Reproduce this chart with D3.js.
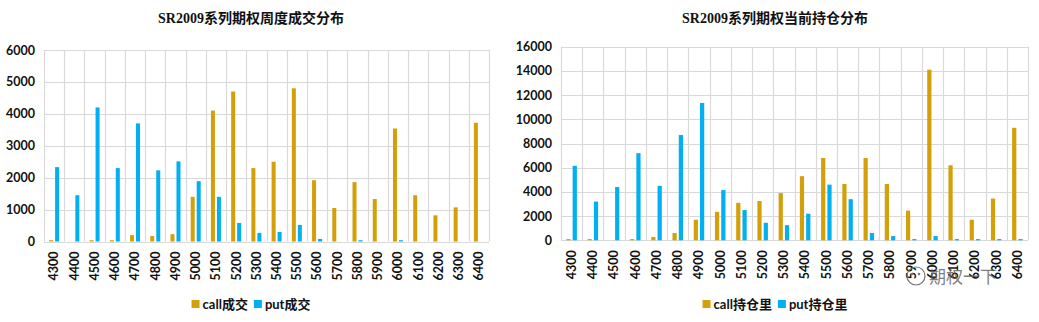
<!DOCTYPE html>
<html><head><meta charset="utf-8">
<script src="https://cdn.jsdelivr.net/npm/d3@7"></script>
<style>
body{margin:0;background:#fff;}
svg{display:block;}
</style></head>
<body>
<svg id="c" width="1039" height="322"></svg>
<script>
const strikes = ["4300","4400","4500","4600","4700","4800","4900","5000","5100","5200","5300","5400","5500","5600","5700","5800","5900","6000","6100","6200","6300","6400"];
const volCall = [40,0,40,40,200,170,230,1400,4100,4700,2300,2500,4800,1920,1050,1860,1330,3540,1450,820,1070,3720];
const volPut  = [2330,1450,4200,2300,3700,2230,2510,1890,1400,580,270,300,520,80,0,40,0,40,0,0,0,0];
const oiCall  = [100,100,0,100,270,600,1700,2350,3100,3250,3900,5300,6800,4650,6800,4650,2450,14100,6200,1700,3450,9300];
const oiPut   = [6150,3200,4400,7200,4500,8700,11350,4150,2500,1450,1250,2200,4600,3400,600,350,100,350,100,100,100,100];
const volTicks = [0,1000,2000,3000,4000,5000,6000];
const oiTicks = [0,2000,4000,6000,8000,10000,12000,14000,16000];
const titles = ["SR2009系列期权周度成交分布","SR2009系列期权当前持仓分布"];
const legendVol = ["call成交","put成交"];
const legendOi = ["call持仓里","put持仓里"];
const colors = ["#D4A00A","#00B0F0"];

const svg = d3.select("#c");
const numFont = "Lato, 'Open Sans', sans-serif";
const cjkFont = "Lato, 'Noto Sans CJK SC', sans-serif";

function chart(cfg){
  const g = svg.append("g");
  const x0 = d3.scaleBand().domain(strikes).range([cfg.x0, cfg.x1]).paddingInner(0).paddingOuter(0);
  const x1 = d3.scaleBand().domain(["call","put"]).range([0, x0.bandwidth()]).paddingInner(0.33).paddingOuter(0.85);
  const y = d3.scaleLinear().domain([0, cfg.max]).range([cfg.yb, cfg.yt]);
  g.append("g").selectAll("line").data(cfg.ticks).join("line")
    .attr("x1", cfg.x0).attr("x2", cfg.x1)
    .attr("y1", d=>Math.round(y(d))+0.5).attr("y2", d=>Math.round(y(d))+0.5)
    .attr("stroke","#d9d9d9").attr("stroke-width",1.2);
  const bounds = strikes.map(s=>x0(s)).concat([cfg.x1]);
  g.append("g").selectAll("line").data(bounds).join("line")
    .attr("x1", d=>Math.round(d)+0.5).attr("x2", d=>Math.round(d)+0.5)
    .attr("y1", cfg.yt).attr("y2", cfg.yb)
    .attr("stroke","#d9d9d9").attr("stroke-width",1.2);
  const ya = d3.axisLeft(y).tickValues(cfg.ticks).tickFormat(d3.format("d")).tickSize(0).tickPadding(0);
  const yg = g.append("g").attr("transform",`translate(${cfg.labelX},0)`).call(ya);
  yg.select(".domain").remove();
  yg.selectAll("text").attr("font-family",numFont).attr("font-weight","bold").attr("font-size",12.5).attr("fill","#111");
  const xa = d3.axisBottom(x0).tickSize(0).tickPadding(0);
  const xg = g.append("g").attr("transform",`translate(0,${cfg.yb+10})`).call(xa);
  xg.select(".domain").remove();
  xg.selectAll("text").attr("font-family",numFont).attr("font-weight","bold").attr("font-size",12.5).attr("fill","#111")
    .attr("text-anchor","end").attr("transform","rotate(-90)").attr("dy","0.35em").attr("x",0).attr("y",0);
  const rows = strikes.map((s,i)=>({s, call:cfg.call[i], put:cfg.put[i]}));
  g.append("g").selectAll("g").data(rows).join("g")
    .attr("transform", d=>`translate(${x0(d.s)},0)`)
    .selectAll("rect").data(d=>[{k:"call",v:d.call},{k:"put",v:d.put}]).join("rect")
    .attr("x", d=>x1(d.k)).attr("width", x1.bandwidth())
    .attr("y", d=>y(d.v)).attr("height", d=>y(0)-y(d.v))
    .attr("fill", (d,i)=>colors[i]);
  g.append("text").attr("x",cfg.cx).attr("y",23).attr("text-anchor","middle")
    .attr("font-family","'Liberation Serif', 'Noto Sans CJK SC', serif").attr("font-weight","bold").attr("font-size",14).attr("fill","#111")
    .text(cfg.title);
  const lg = g.append("g");
  let xx = 0;
  cfg.legend.forEach((t,i)=>{
    lg.append("rect").attr("x",xx).attr("y",300).attr("width",8).attr("height",8).attr("fill",colors[i]);
    const tx = lg.append("text").attr("x",xx+11).attr("y",309).attr("font-family",cjkFont).attr("font-weight","bold")
      .attr("font-size",13).attr("fill","#111").text(t);
    xx += 11 + tx.node().getComputedTextLength() + 6;
  });
  const w = xx - 6;
  lg.attr("transform",`translate(${cfg.cx - w/2},0)`);
}

chart({x0:44, x1:489, yt:50, yb:241.5, max:6000, ticks:volTicks, call:volCall, put:volPut, labelX:35, cx:251, title:titles[0], legend:legendVol});
chart({x0:561, x1:1028, yt:46.7, yb:240.3, max:16000, ticks:oiTicks, call:oiCall, put:oiPut, labelX:552, cx:775, title:titles[1], legend:legendOi});

// watermark
const wm = svg.append("g");
wm.append("circle").attr("cx",916).attr("cy",276).attr("r",9).attr("fill","none").attr("stroke","#777").attr("stroke-width",1.2);
wm.append("circle").attr("cx",912).attr("cy",274).attr("r",1.3).attr("fill","#777");
wm.append("circle").attr("cx",919).attr("cy",274).attr("r",1.3).attr("fill","#777");
wm.append("text").attr("x",929).attr("y",283).attr("font-family","'Noto Sans CJK SC', sans-serif").attr("font-size",17)
  .attr("fill","#666").attr("fill-opacity",0.85).text("期权一下");
</script>
</body></html>
